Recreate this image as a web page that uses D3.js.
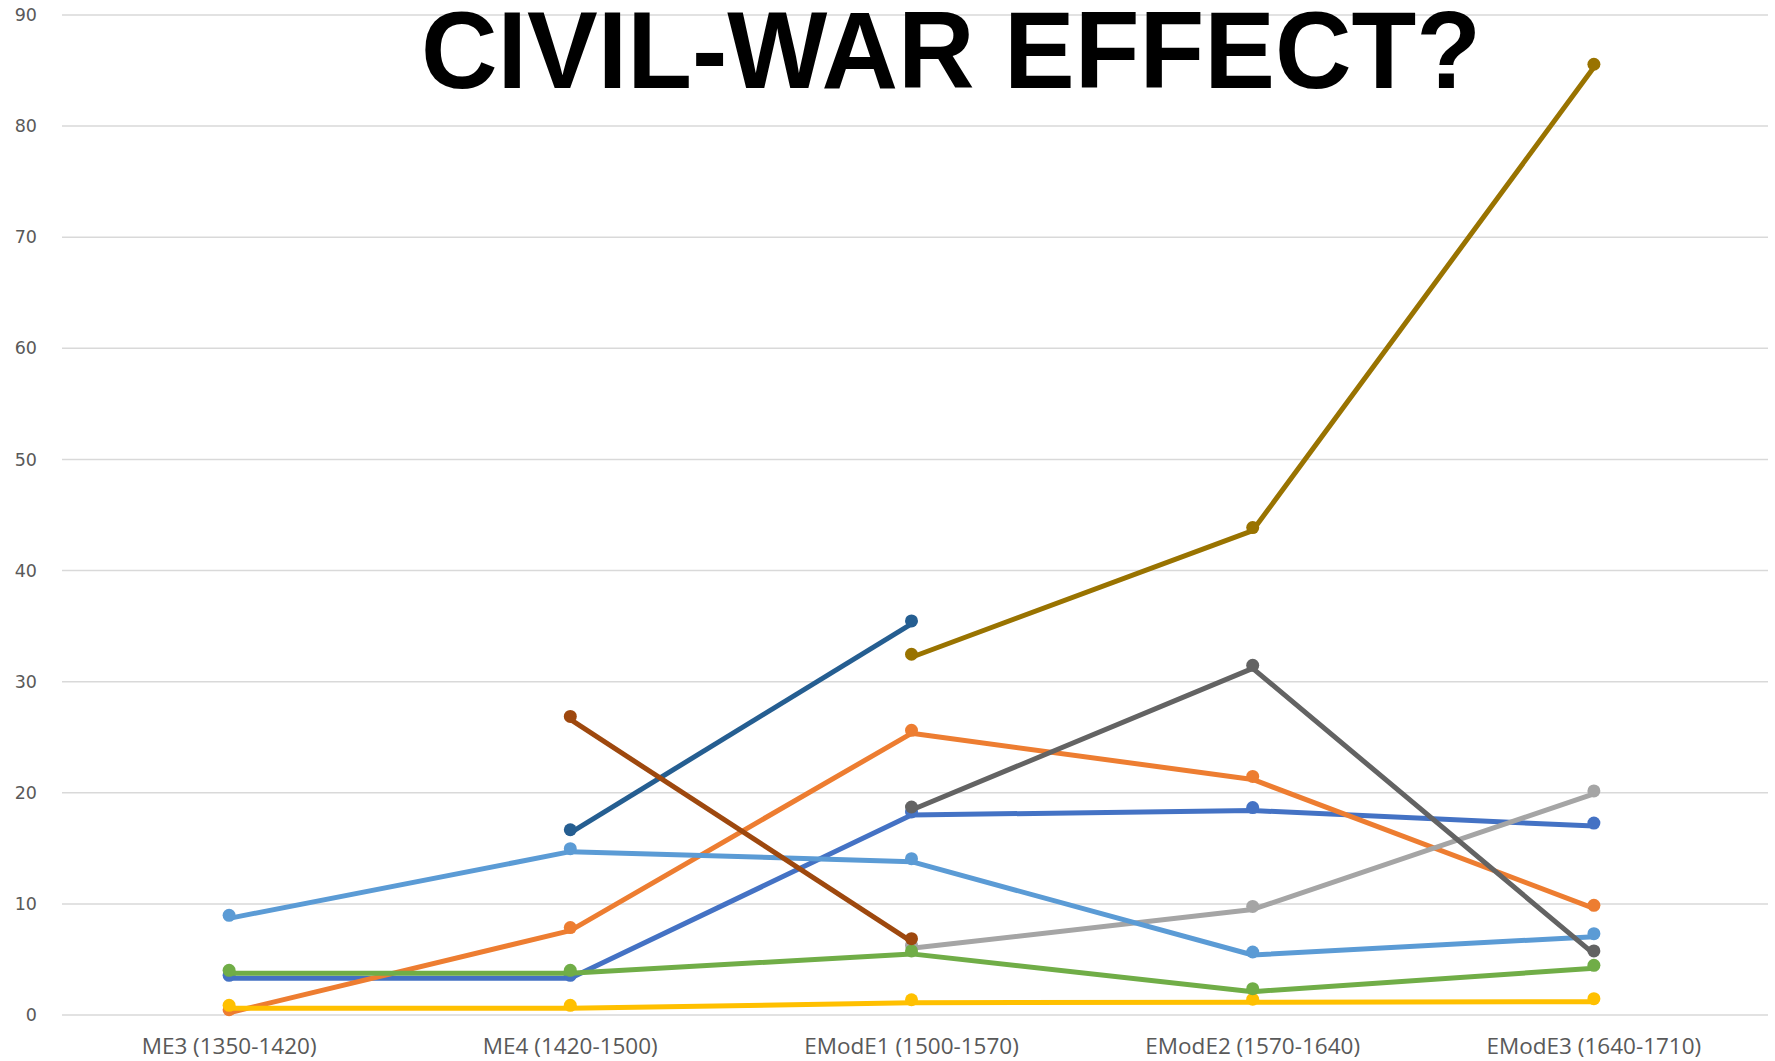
<!DOCTYPE html>
<meta charset="utf-8">
<style>
body { margin: 0; background: #fff; }
.grid line { stroke: #d9d9d9; stroke-width: 1.5; }
.ytick { font-family: "DejaVu Sans", sans-serif; font-size: 17.5px; fill: #595959; }
.xtick { font-family: "Open Sans", sans-serif; font-size: 22.5px; fill: #595959; }
.title { font-family: "Liberation Sans", Arial, sans-serif; font-weight: bold; font-size: 109px; fill: #000; }
</style>
<svg width="1775" height="1061"></svg>
<script src="https://cdn.jsdelivr.net/npm/d3@7"></script>
<script>

var periods = ["ME3 (1350-1420)", "ME4 (1420-1500)", "EModE1 (1500-1570)", "EModE2 (1570-1640)", "EModE3 (1640-1710)"];
var yTicks = [0, 10, 20, 30, 40, 50, 60, 70, 80, 90];

// one array per line, null = no value for that period
var blue      = [3.3, 3.3, 18.0, 18.4, 17.0];
var orange    = [0.2, 7.6, 25.35, 21.2, 9.6];
var gray      = [null, null, 6.0, 9.5, 19.9];
var yellow    = [0.6, 0.6, 1.1, 1.15, 1.2];
var lightBlue = [8.7, 14.7, 13.8, 5.4, 7.05];
var green     = [3.75, 3.75, 5.5, 2.1, 4.2];
var darkBlue  = [null, 16.4, 35.2, null, null];
var brown     = [null, 26.6, 6.6, null, null];
var darkGray  = [null, null, 18.45, 31.2, 5.5];
var olive     = [null, null, 32.2, 43.6, 85.3];

var series = [
  {values: blue, color: "#4472c4"},
  {values: orange, color: "#ed7d31"},
  {values: gray, color: "#a5a5a5"},
  {values: yellow, color: "#ffc000"},
  {values: lightBlue, color: "#5b9bd5"},
  {values: green, color: "#70ad47"},
  {values: darkBlue, color: "#255e91"},
  {values: brown, color: "#9e480e"},
  {values: darkGray, color: "#636363"},
  {values: olive, color: "#997300"}
];

var svg = d3.select("svg");

var x = d3.scalePoint().domain(periods).range([58.5, 1764.5]).padding(0.5),
    y = d3.scaleLinear().domain([0, 90]).range([1015, 15]);

// gridlines
svg.append("g").attr("class", "grid")
  .selectAll("line")
  .data(yTicks)
  .enter().append("line")
    .attr("x1", 62)
    .attr("x2", 1768)
    .attr("y1", function(d) { return y(d); })
    .attr("y2", function(d) { return y(d); });

svg.append("g")
  .selectAll("text")
  .data(yTicks)
  .enter().append("text")
    .attr("class", "ytick")
    .attr("x", 37)
    .attr("y", function(d) { return y(d); })
    .attr("dy", "0.35em")
    .attr("text-anchor", "end")
    .text(function(d) { return d; });

svg.append("g")
  .selectAll("text")
  .data(periods)
  .enter().append("text")
    .attr("class", "xtick")
    .attr("x", function(d) { return x(d); })
    .attr("y", 1054)
    .attr("text-anchor", "middle")
    .text(function(d) { return d; });

var line = d3.line()
    .defined(function(d) { return d.v !== null; })
    .x(function(d) { return x(d.p); })
    .y(function(d) { return y(d.v); });

series.forEach(function(s) {
  var pts = s.values.map(function(v, i) { return {p: periods[i], v: v}; });
  var g = svg.append("g");
  g.append("path")
      .datum(pts)
      .attr("fill", "none")
      .attr("stroke", s.color)
      .attr("stroke-width", 5)
      .attr("stroke-linejoin", "round")
      .attr("d", line);
  // markers sit a little above the vertex, as in the original export
  g.selectAll("circle")
    .data(pts.filter(function(d) { return d.v !== null; }))
    .enter().append("circle")
      .attr("cx", function(d) { return x(d.p); })
      .attr("cy", function(d) { return y(d.v) - 3; })
      .attr("r", 6.5)
      .attr("fill", s.color);
});

svg.append("text")
    .attr("class", "title")
    .attr("x", 951)
    .attr("y", 88)
    .attr("text-anchor", "middle")
    .attr("textLength", 1060)
    .attr("lengthAdjust", "spacingAndGlyphs")
    .text("CIVIL-WAR EFFECT?");

</script>
